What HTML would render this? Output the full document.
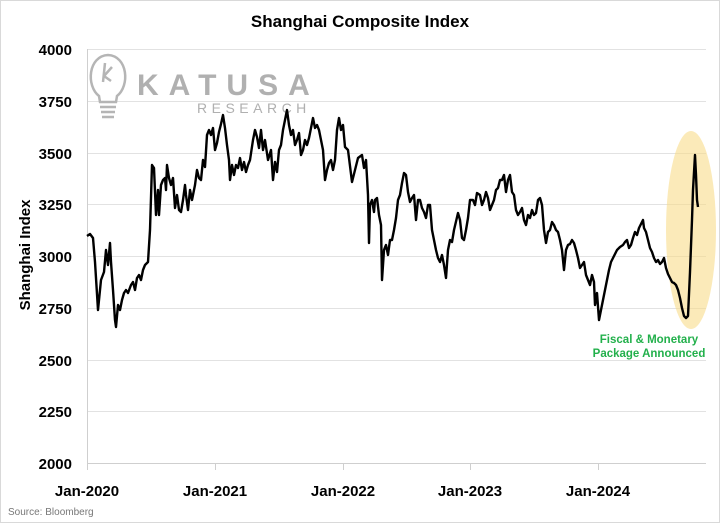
<!DOCTYPE html>
<html><head><meta charset="utf-8"><style>
html,body{margin:0;padding:0;background:#fff;}
svg{display:block;}
text{font-family:"Liberation Sans Narrow","Liberation Sans",sans-serif;}
</style></head><body>
<svg width="720" height="523" viewBox="0 0 720 523" xmlns="http://www.w3.org/2000/svg">
<rect x="0.5" y="0.5" width="719" height="522" fill="#fff" stroke="#d9d9d9"/>
<text x="360" y="27" text-anchor="middle" font-size="17" font-weight="bold" fill="#000">Shanghai Composite Index</text>
<g stroke="#e2e2e2" stroke-width="1">
<line x1="87" y1="49.5" x2="706" y2="49.5"/>
<line x1="87" y1="101.5" x2="706" y2="101.5"/>
<line x1="87" y1="153.5" x2="706" y2="153.5"/>
<line x1="87" y1="204.5" x2="706" y2="204.5"/>
<line x1="87" y1="256.5" x2="706" y2="256.5"/>
<line x1="87" y1="308.5" x2="706" y2="308.5"/>
<line x1="87" y1="360.5" x2="706" y2="360.5"/>
<line x1="87" y1="411.5" x2="706" y2="411.5"/>
</g>
<g stroke="#cfcfcf" stroke-width="1">
<line x1="87.5" y1="49" x2="87.5" y2="470"/>
<line x1="87" y1="463.5" x2="706" y2="463.5"/>
<line x1="215.5" y1="463" x2="215.5" y2="470"/>
<line x1="343.5" y1="463" x2="343.5" y2="470"/>
<line x1="470.5" y1="463" x2="470.5" y2="470"/>
<line x1="598.5" y1="463" x2="598.5" y2="470"/>
</g>
<g font-size="15" font-weight="bold" fill="#000" text-anchor="end">
<text x="72" y="55">4000</text>
<text x="72" y="107">3750</text>
<text x="72" y="159">3500</text>
<text x="72" y="210">3250</text>
<text x="72" y="262">3000</text>
<text x="72" y="314">2750</text>
<text x="72" y="366">2500</text>
<text x="72" y="417">2250</text>
<text x="72" y="469">2000</text>
</g>
<g font-size="15" font-weight="bold" fill="#000" text-anchor="middle">
<text x="87" y="496">Jan-2020</text>
<text x="215" y="496">Jan-2021</text>
<text x="343" y="496">Jan-2022</text>
<text x="470" y="496">Jan-2023</text>
<text x="598" y="496">Jan-2024</text>
</g>
<text transform="translate(30,255) rotate(-90)" text-anchor="middle" font-size="15" font-weight="bold" fill="#000">Shanghai Index</text>
<text x="8" y="515" font-size="10" fill="#777" font-family="Liberation Sans,sans-serif">Source: Bloomberg</text>
<g stroke="#b5b5b5" stroke-width="2.5" fill="none">
<path d="M99 96 C86 86 88 56 108 55 C128 56 130 86 117 96 L116 102 L100 102 Z"/>
<line x1="100" y1="107" x2="116" y2="107"/>
<line x1="101" y1="112" x2="115" y2="112"/>
<line x1="102" y1="117" x2="114" y2="117"/>
<path d="M105 63 L103 82 M104 76 L112 67 M104 76 L111 81"/>
</g>
<text x="137" y="95" font-size="30" font-weight="bold" fill="#b0b0b0" letter-spacing="10" font-family="Liberation Sans,sans-serif">KATUSA</text>
<text x="197" y="113" font-size="14" fill="#b0b0b0" letter-spacing="4.5" font-family="Liberation Sans,sans-serif">RESEARCH</text>
<ellipse cx="691" cy="230" rx="25" ry="99" fill="#f8dc8a" opacity="0.6"/>
<polyline fill="none" stroke="#000" stroke-width="2.4" stroke-linejoin="round" points="87,236 90,234 93,238 95,262 98,310 101,280 104,272 106,250 108,265 110,243 111,262 113,290 115,320 116,327 118,305 120,310 122,300 124,293 126,290 128,293 131,285 133,282 135,290 137,278 139,275 141,280 143,270 145,265 148,262 150,230 152,165 154,168 156,215 158,190 159,215 161,185 163,180 165,178 166,190 167,165 169,178 171,185 173,178 175,208 177,195 179,210 181,212 183,200 185,185 186,195 188,210 190,190 192,200 195,185 197,170 199,178 201,180 203,160 205,167 207,135 209,130 211,135 213,128 215,150 217,143 219,132 221,124 223,115 225,128 227,145 229,160 230,180 232,165 234,175 236,165 238,168 240,158 242,170 244,162 246,172 248,165 250,160 253,140 255,130 257,137 259,148 261,130 263,150 265,140 268,160 271,150 273,180 275,162 277,172 279,150 281,145 283,130 285,120 287,110 289,125 291,135 293,130 295,145 297,140 299,133 301,155 303,150 305,140 307,145 309,138 311,128 313,118 315,128 317,125 319,130 321,140 323,150 325,180 327,170 329,163 331,160 333,170 335,160 337,130 339,118 341,130 343,125 345,147 348,150 352,182 355,170 358,158 362,155 364,168 366,160 368,195 369,243 370,205 372,200 374,212 375,200 377,198 379,215 381,225 382,280 384,250 386,245 388,255 390,240 392,240 394,230 396,218 398,200 400,195 402,183 404,173 406,175 408,192 410,202 412,198 414,195 416,220 418,200 420,200 422,208 424,212 426,218 428,205 430,205 432,230 434,240 436,250 438,258 440,262 442,255 444,265 446,278 448,250 450,240 452,242 454,230 458,213 460,220 462,238 464,240 466,230 468,218 470,200 473,200 475,205 477,193 480,195 482,205 484,200 486,192 488,198 490,210 492,205 494,200 496,190 498,188 500,180 502,180 504,175 506,192 508,180 510,175 512,192 514,195 516,210 518,215 520,212 522,208 524,220 526,225 528,215 530,218 532,210 534,215 536,213 538,200 540,198 542,205 544,230 546,243 548,232 550,230 552,222 554,225 556,230 558,232 560,240 562,250 564,270 566,250 568,245 570,244 572,240 574,243 576,250 578,258 580,268 582,265 584,262 586,275 588,280 590,285 592,275 594,282 595,305 597,293 599,320 601,310 603,300 605,290 607,280 609,270 611,262 613,258 617,250 620,247 623,245 625,242 627,240 629,248 631,245 633,238 635,232 637,235 639,228 641,224 643,220 644,228 646,232 648,240 650,248 652,252 654,258 656,262 658,260 660,264 662,262 664,258 666,268 668,274 670,278 672,282 674,283 676,285 678,290 680,298 682,308 684,316 686,318 688,316 690,272 692,220 693,190 695,155 696,175 697,200 698,207"/>
<text x="649" y="343" text-anchor="middle" font-size="11.5" font-weight="bold" fill="#22b04b">Fiscal &amp; Monetary</text>
<text x="649" y="357" text-anchor="middle" font-size="11.5" font-weight="bold" fill="#22b04b">Package Announced</text>
</svg>
</body></html>
